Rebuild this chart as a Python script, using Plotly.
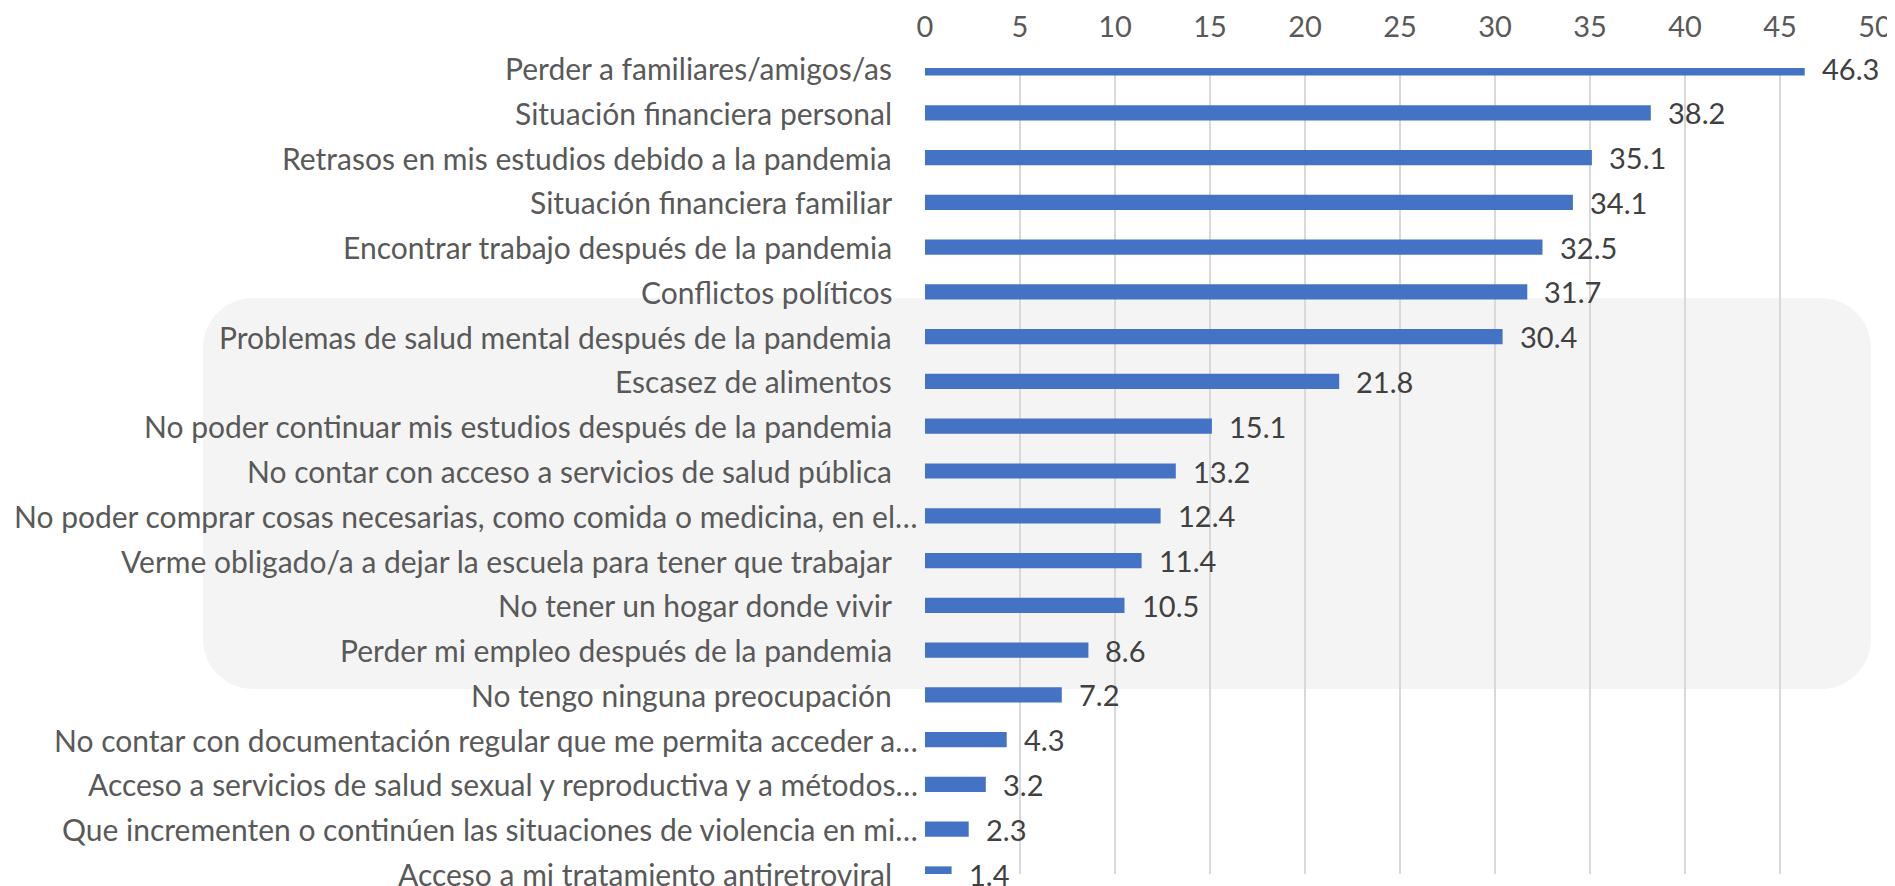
import plotly.graph_objects as go

categories = [
    "Perder a familiares/amigos/as",
    "Situación financiera personal",
    "Retrasos en mis estudios debido a la pandemia",
    "Situación financiera familiar",
    "Encontrar trabajo después de la pandemia",
    "Conflictos políticos",
    "Problemas de salud mental después de la pandemia",
    "Escasez de alimentos",
    "No poder continuar mis estudios después de la pandemia",
    "No contar con acceso a servicios de salud pública",
    "No poder comprar cosas necesarias, como comida o medicina, en el…",
    "Verme obligado/a a dejar la escuela para tener que trabajar",
    "No tener un hogar donde vivir",
    "Perder mi empleo después de la pandemia",
    "No tengo ninguna preocupación",
    "No contar con documentación regular que me permita acceder a…",
    "Acceso a servicios de salud sexual y reproductiva y a métodos…",
    "Que incrementen o continúen las situaciones de violencia en mi…",
    "Acceso a mi tratamiento antiretroviral",
]
values = [46.3, 38.2, 35.1, 34.1, 32.5, 31.7, 30.4, 21.8, 15.1, 13.2,
          12.4, 11.4, 10.5, 8.6, 7.2, 4.3, 3.2, 2.3, 1.4]
x_ticks = [0, 5, 10, 15, 20, 25, 30, 35, 40, 45, 50]

# the page body adds an 8px margin: lay the figure out in page pixels minus 8
OFF = 8
W, H = 1895 - OFF, 886 - OFF
ML = 925 - OFF
MR = W - (1875 - OFF)
MT = 68 - OFF
MB = H - (874 - OFF)
PW, PH = W - ML - MR, H - MT - MB

FONT = "Lato"
LABEL_COLOR = "#595959"
VALUE_COLOR = "#404040"
BAR_COLOR = "#4472C4"


def px_x(p):
    """page pixel x -> paper fraction"""
    return (p - OFF - ML) / PW


def px_y(p):
    """page pixel y -> paper fraction"""
    return (H - MB - (p - OFF)) / PH


fig = go.Figure()

fig.add_trace(go.Bar(
    x=values, y=categories, orientation="h",
    marker=dict(color=BAR_COLOR, line=dict(width=0)),
    width=0.34, hoverinfo="skip",
))

# value labels
for c, v in zip(categories, values):
    fig.add_annotation(
        x=v, xref="x", y=c, yref="y", text=f"{v:.1f}",
        showarrow=False, xanchor="left", yanchor="middle", xshift=15,
        font=dict(family=FONT, size=29, color=VALUE_COLOR),
    )

# category labels
for c in categories:
    right = 920 if c.endswith("…") else 894
    fig.add_annotation(
        x=px_x(right), xref="paper", y=c, yref="y",
        text=c, showarrow=False, xanchor="right", yanchor="middle",
        font=dict(family=FONT, size=30, color=LABEL_COLOR),
    )

# grey rounded panel (background decoration)
x0, x1, y0, y1, r = 203, 1871, 298, 689, 50
k = 0.5523 * r
pts = [
    ("M", (x0 + r, y0)),
    ("L", (x1 - r, y0)),
    ("C", (x1 - r + k, y0), (x1, y0 + r - k), (x1, y0 + r)),
    ("L", (x1, y1 - r)),
    ("C", (x1, y1 - r + k), (x1 - r + k, y1), (x1 - r, y1)),
    ("L", (x0 + r, y1)),
    ("C", (x0 + r - k, y1), (x0, y1 - r + k), (x0, y1 - r)),
    ("L", (x0, y0 + r)),
    ("C", (x0, y0 + r - k), (x0 + r - k, y0), (x0 + r, y0)),
]
path = ""
for item in pts:
    cmd = item[0]
    coords = " ".join(f"{px_x(a):.5f},{px_y(b):.5f}" for a, b in item[1:])
    path += f"{cmd}{coords} "
path += "Z"
fig.add_shape(type="path", path=path, xref="paper", yref="paper",
              fillcolor="#f4f4f4", line=dict(width=0), layer="below")

fig.update_layout(
    width=W, height=H,
    margin=dict(l=ML, r=MR, t=MT, b=MB, autoexpand=False),
    paper_bgcolor="white", plot_bgcolor="rgba(0,0,0,0)",
    showlegend=False, bargap=0.66,
    font=dict(family=FONT, color=LABEL_COLOR),
)
fig.update_xaxes(
    side="top", range=[0, 50], tickvals=x_ticks,
    ticktext=[str(t) for t in x_ticks],
    tickfont=dict(family=FONT, size=29, color=LABEL_COLOR),
    showgrid=True, gridcolor="#d9d9d9", gridwidth=2,
    zeroline=False, showline=False, automargin=False,
    ticks="outside", ticklen=18, tickcolor="rgba(0,0,0,0)",
    fixedrange=True,
)
fig.update_yaxes(
    type="category", categoryorder="array", categoryarray=categories,
    range=[18.0, 0.0], showticklabels=False, showgrid=False,
    zeroline=False, showline=False, fixedrange=True, automargin=False,
)

fig.write_html("out.html")
